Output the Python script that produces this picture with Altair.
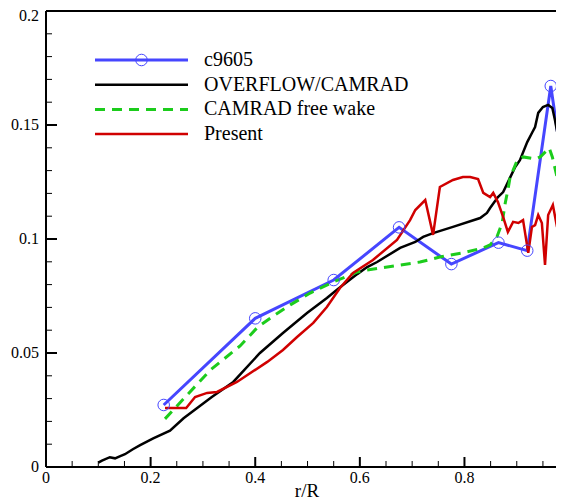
import altair as alt
import pandas as pd

# ---------------- data ----------------
c9605_x = [0.225, 0.40, 0.55, 0.675, 0.775, 0.865, 0.92, 0.965, 0.99]
c9605_y = [0.0272, 0.0652, 0.0820, 0.1051, 0.0890, 0.0984, 0.0949, 0.1671, 0.1281]

overflow_x = [0.100, 0.107, 0.122, 0.132, 0.142, 0.151, 0.166, 0.180, 0.205, 0.237,
              0.263, 0.317, 0.358, 0.409, 0.453, 0.499, 0.537, 0.558, 0.595, 0.614,
              0.633, 0.677, 0.706, 0.721, 0.740, 0.778, 0.830, 0.843, 0.849, 0.864,
              0.874, 0.887, 0.897, 0.906, 0.920, 0.929, 0.935, 0.941, 0.950, 0.960,
              0.968, 0.973, 0.979, 0.987, 0.990]
overflow_y = [0.0019, 0.0028, 0.0043, 0.0038, 0.0048, 0.0056, 0.0078, 0.0096, 0.0126, 0.0159,
              0.0214, 0.0307, 0.0373, 0.0500, 0.0588, 0.0675, 0.0741, 0.0781, 0.0846, 0.0877,
              0.0899, 0.0961, 0.0987, 0.1009, 0.1026, 0.1053, 0.1092, 0.1114, 0.1136, 0.1184,
              0.1206, 0.1268, 0.1316, 0.1346, 0.1425, 0.1465, 0.1491, 0.1553, 0.1579, 0.1588,
              0.1575, 0.1522, 0.1447, 0.1382, 0.1382]

camrad_x = [0.2275, 0.314, 0.371, 0.405, 0.438, 0.467, 0.505, 0.549, 0.595, 0.614,
            0.677, 0.715, 0.753, 0.797, 0.836, 0.849, 0.862, 0.872, 0.878, 0.883,
            0.887, 0.901, 0.912, 0.935, 0.945, 0.962, 0.968, 0.977, 0.983, 0.990]
camrad_y = [0.0211, 0.0425, 0.0531, 0.0614, 0.0667, 0.0711, 0.0763, 0.0811, 0.0855, 0.0864,
            0.0886, 0.0899, 0.0921, 0.0939, 0.0961, 0.0974, 0.1009, 0.1070, 0.1158, 0.1215,
            0.1268, 0.1346, 0.1360, 0.1351, 0.1360, 0.1399, 0.1360, 0.1272, 0.1215, 0.1118]

present_x = [0.2275, 0.268, 0.285, 0.308, 0.327, 0.365, 0.423, 0.453, 0.480, 0.511,
             0.537, 0.562, 0.587, 0.625, 0.671, 0.696, 0.706, 0.725, 0.740, 0.753,
             0.778, 0.797, 0.811, 0.826, 0.836, 0.849, 0.855, 0.864, 0.874, 0.883,
             0.893, 0.903, 0.912, 0.922, 0.929, 0.935, 0.941, 0.948, 0.954, 0.960,
             0.969, 0.977, 0.983, 0.990]
present_y = [0.0259, 0.0259, 0.0307, 0.0325, 0.0329, 0.0373, 0.0461, 0.0513, 0.0570, 0.0632,
             0.0702, 0.0785, 0.0851, 0.0908, 0.0996, 0.1083, 0.1127, 0.1171, 0.1018, 0.1228,
             0.1259, 0.1272, 0.1272, 0.1263, 0.1202, 0.1184, 0.1202, 0.1162, 0.1096, 0.1031,
             0.1075, 0.1070, 0.1083, 0.0939, 0.1053, 0.1061, 0.1105, 0.1070, 0.0886, 0.1105,
             0.1149, 0.1053, 0.1140, 0.1004]

x_major = [0, 0.2, 0.4, 0.6, 0.8]
x_labels = ["0", "0.2", "0.4", "0.6", "0.8"]
x_minor = [0.05, 0.1, 0.15, 0.25, 0.3, 0.35, 0.45, 0.5, 0.55, 0.65, 0.7, 0.75, 0.85, 0.9, 0.95]
y_major = [0, 0.05, 0.1, 0.15, 0.2]
y_labels = ["0", "0.05", "0.1", "0.15", "0.2"]
y_minor = [0.01, 0.02, 0.03, 0.04, 0.06, 0.07, 0.08, 0.09, 0.11, 0.12, 0.13, 0.14,
           0.16, 0.17, 0.18, 0.19]
x_title = "r/R"

legend_labels = ["c9605", "OVERFLOW/CAMRAD", "CAMRAD free wake", "Present"]

BLUE = "#4646ff"
BLACK = "#000000"
GREEN = "#1ccc1c"
RED = "#d00000"
FONT = "Liberation Serif"

W, H = 510, 456
XMAX = 0.975
xs = alt.Scale(domain=[0, XMAX], nice=False, zero=False)
ys = alt.Scale(domain=[0, 0.2], nice=False, zero=False)


def X(field):
    return alt.X(field, type="quantitative", scale=xs, axis=None)


def Y(field):
    return alt.Y(field, type="quantitative", scale=ys, axis=None)


def series_df(xv, yv):
    return pd.DataFrame({"x": xv, "y": yv})


def line(xv, yv, color, width, dash=None):
    kw = dict(color=color, strokeWidth=width, clip=True)
    if dash:
        kw["strokeDash"] = dash
    return alt.Chart(series_df(xv, yv)).mark_line(**kw).encode(x=X("x"), y=Y("y"))


blue_line = line(c9605_x, c9605_y, BLUE, 3)
blue_pts = alt.Chart(series_df(c9605_x, c9605_y)).mark_point(
    shape="circle", filled=False, size=133, color=BLUE, strokeWidth=1, opacity=1, clip=True
).encode(x=X("x"), y=Y("y"))
black_line = line(overflow_x, overflow_y, BLACK, 2.5)
green_line = line(camrad_x, camrad_y, GREEN, 3, dash=[10, 7])
red_line = line(present_x, present_y, RED, 2.5)


# ---------------- hand-drawn Tecplot-style axes ----------------
def xticks(vals, length, width):
    return alt.Chart(pd.DataFrame({"v": vals})).mark_rule(color="black", strokeWidth=width).encode(
        x=X("v"), y=alt.value(H), y2=alt.value(H - length))


def yticks(vals, length, width):
    return alt.Chart(pd.DataFrame({"v": vals})).mark_rule(color="black", strokeWidth=width).encode(
        y=Y("v"), x=alt.value(0), x2=alt.value(length))


frame_h = alt.Chart(pd.DataFrame({"v": [0, 0.2]})).mark_rule(color="black", strokeWidth=2).encode(
    y=Y("v"), x=alt.value(0), x2=alt.value(W))
frame_v = alt.Chart(pd.DataFrame({"v": [0]})).mark_rule(color="black", strokeWidth=2).encode(
    x=X("v"), y=alt.value(0), y2=alt.value(H))

xlab_df = pd.DataFrame({"v": x_major, "lab": x_labels})
x_lab = alt.Chart(xlab_df).mark_text(
    align="center", baseline="top", font=FONT, fontSize=16, color="black", dy=3
).encode(x=X("v"), y=alt.value(H), text="lab:N")

ylab_df = pd.DataFrame({"v": y_major[:-1], "lab": y_labels[:-1]})
y_lab = alt.Chart(ylab_df).mark_text(
    align="right", baseline="middle", font=FONT, fontSize=16, color="black"
).encode(y=Y("v"), x=alt.value(-7), text="lab:N")
ytop_df = pd.DataFrame({"v": y_major[-1:], "lab": y_labels[-1:]})
y_lab_top = alt.Chart(ytop_df).mark_text(
    align="right", baseline="middle", font=FONT, fontSize=16, color="black", dy=4.5
).encode(y=Y("v"), x=alt.value(-7), text="lab:N")

title_df = pd.DataFrame({"t": [x_title]})
x_ttl = alt.Chart(title_df).mark_text(
    align="center", baseline="bottom", font=FONT, fontSize=19, color="black"
).encode(text="t:N", x=alt.value(261), y=alt.value(H + 34))

# ---------------- legend (Tecplot style) ----------------
legend_layers = []
leg_styles = [
    dict(color=BLUE, strokeWidth=3),
    dict(color=BLACK, strokeWidth=2.5),
    dict(color=GREEN, strokeWidth=3, strokeDash=[10, 7]),
    dict(color=RED, strokeWidth=2.5),
]
for i, (lab, st) in enumerate(zip(legend_labels, leg_styles)):
    yy = 49 + i * 24.7
    ldf = pd.DataFrame({"t": [lab]})
    legend_layers.append(
        alt.Chart(ldf).mark_rule(**st).encode(x=alt.value(49), x2=alt.value(142), y=alt.value(yy)))
    legend_layers.append(
        alt.Chart(ldf).mark_text(align="left", baseline="middle", font=FONT, fontSize=20,
                                 color="black").encode(text="t:N", x=alt.value(158), y=alt.value(yy)))
    if i == 0:
        legend_layers.append(
            alt.Chart(ldf).mark_point(shape="circle", filled=False, size=133, color=BLUE,
                                      strokeWidth=1, opacity=1).encode(
                x=alt.value(95.5), y=alt.value(yy)))

chart = alt.layer(
    blue_line, black_line, green_line, red_line, blue_pts,
    xticks(x_major, 10, 2), xticks(x_minor, 6, 1),
    yticks(y_major, 11, 2), yticks(y_minor, 6, 1),
    frame_h, frame_v, x_lab, y_lab, y_lab_top, x_ttl,
    *legend_layers,
).properties(
    width=W, height=H,
    background="white",
    autosize=alt.AutoSizeParams(type="none"),
    padding={"left": 38, "top": 3, "right": 0, "bottom": 36},
).configure_view(stroke=None)

chart.save("out.html", embed_options={"renderer": "svg", "actions": False})
